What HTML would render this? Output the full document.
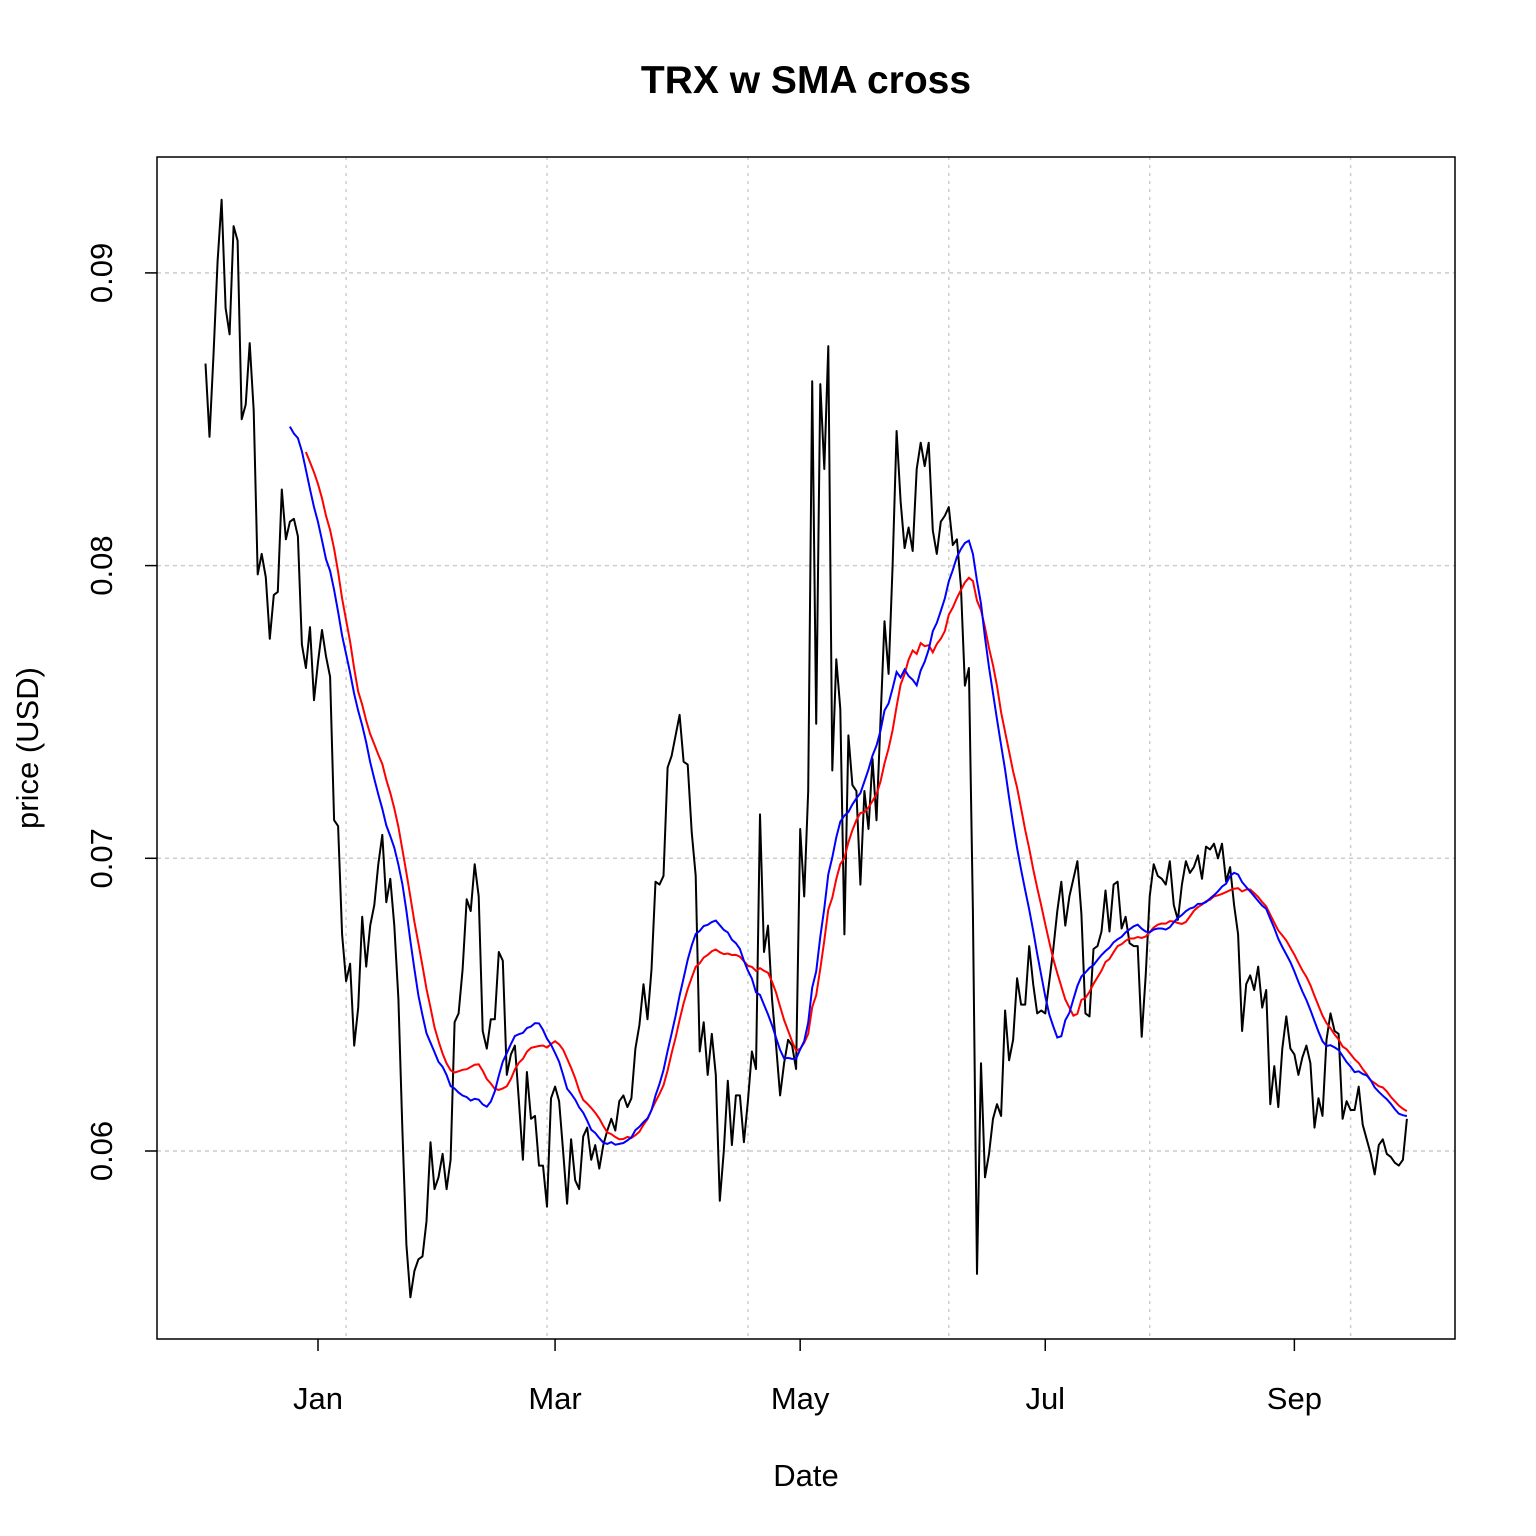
<!DOCTYPE html>
<html><head><meta charset="utf-8"><style>
html,body{margin:0;padding:0;background:#fff}
svg{display:block;font-family:"Liberation Sans",Arial,sans-serif}
</style></head><body>
<svg id="chart" width="1536" height="1536" viewBox="0 0 1536 1536" xmlns="http://www.w3.org/2000/svg">
<rect x="0" y="0" width="1536" height="1536" fill="#fff"/>
<text x="806" y="93" text-anchor="middle" font-size="39" font-weight="bold">TRX w SMA cross</text>
<text x="806" y="1486" text-anchor="middle" font-size="31">Date</text>
<text transform="translate(38,748) rotate(-90)" text-anchor="middle" font-size="31">price (USD)</text>
<g id="grid"></g>
<g id="series"></g>
<g id="axes"></g>
<rect x="157" y="157" width="1298" height="1182" fill="none" stroke="#000" stroke-width="1.5"/>
</svg>
<script>
// daily closing price (x1e-4 USD), starting Dec 4 (day -28 relative to Jan 1)
const startDay = -28;
const prices = [869,844,872,904,925,888,879,916,911,850,855,876,853,797,804,796,775,790,791,826,809,815,816,810,773,765,779,754,767,778,769,762,713,711,674,658,664,636,649,680,663,677,684,698,708,685,693,677,652,607,568,550,559,563,564,576,603,587,591,599,587,597,644,647,662,686,682,698,687,641,635,645,645,668,665,626,633,636,617,597,627,611,612,595,595,581,618,622,617,600,582,604,590,587,605,608,597,602,594,602,607,611,607,617,619,615,618,635,643,657,645,662,692,691,694,731,735,742,749,733,732,709,694,634,644,626,640,626,583,600,624,602,619,619,603,617,634,628,715,668,677,652,636,619,630,638,636,628,710,687,723,863,746,862,833,875,730,768,751,674,742,725,723,691,723,710,734,713,747,781,763,800,846,822,806,813,805,833,842,834,842,812,804,815,817,820,807,809,793,759,765,682,558,630,591,599,611,616,612,648,631,638,659,650,650,670,657,647,648,647,658,669,682,692,677,687,693,699,681,647,646,669,670,675,689,675,691,692,676,680,671,670,670,639,660,687,698,694,693,691,699,684,679,691,699,695,697,701,693,704,703,705,700,705,692,697,684,674,641,657,660,655,663,649,655,616,629,615,635,646,635,633,626,632,636,630,608,618,612,638,647,641,640,611,617,614,614,622,609,604,599,592,602,604,599,598,596,595,597,611];
const fastWindow = 22;
const slowWindow = 26;
const yTicks = [0.06, 0.07, 0.08, 0.09];
const yTickLabels = ["0.06", "0.07", "0.08", "0.09"];
const xTickDays = [0, 59, 120, 181, 243];
const xTickLabels = ["Jan", "Mar", "May", "Jul", "Sep"];
const gridIndices = [35, 85, 135, 185, 235, 285];

const NS = "http://www.w3.org/2000/svg";
function xScale(day){ return 318 + day * 4.018; }
function yScale(v){ return 1151 - (v - 0.06) * 29270; }
function mk(tag, attrs, parent){
  const e = document.createElementNS(NS, tag);
  for (const k in attrs) e.setAttribute(k, attrs[k]);
  parent.appendChild(e);
  return e;
}
const grid = document.getElementById('grid');
const axes = document.getElementById('axes');
const series = document.getElementById('series');

yTicks.forEach((t, i) => {
  const y = yScale(t);
  const g = mk('line', {x1:157, x2:1455, y1:y, y2:y, stroke:'#ccc', 'stroke-width':1.5, 'stroke-dasharray':'4,4'}, grid);
  
  
  const tk = mk('line', {x1:145, x2:157, y1:y, y2:y, stroke:'#000', 'stroke-width':1.5}, axes);
  
  
  const lb = mk('text', {transform:'translate(112,' + y + ') rotate(-90)', 'text-anchor':'middle', 'font-size':31}, axes);
  lb.textContent = yTickLabels[i];
  
  
});
gridIndices.forEach(idx => {
  const x = xScale(startDay + idx);
  const g = mk('line', {x1:x, x2:x, y1:157, y2:1339, stroke:'#ccc', 'stroke-width':1.5, 'stroke-dasharray':'3,5'}, grid);
  
  
});
xTickDays.forEach((d, i) => {
  const x = xScale(d);
  const tk = mk('line', {x1:x, x2:x, y1:1339, y2:1351, stroke:'#000', 'stroke-width':1.5}, axes);
  
  
  const lb = mk('text', {x:x, y:1409, 'text-anchor':'middle', 'font-size':31}, axes);
  lb.textContent = xTickLabels[i];
  
  
});

function pathFrom(vals, offset){
  let d = '';
  vals.forEach((v, i) => {
    d += (i ? 'L' : 'M') + xScale(startDay + offset + i).toFixed(1) + ',' + yScale(v / 10000).toFixed(1);
  });
  return d;
}
function sma(vals, w){
  const out = [];
  for (let i = w - 1; i < vals.length; i++){
    let s = 0;
    for (let j = i - w + 1; j <= i; j++) s += vals[j];
    out.push(s / w);
  }
  return out;
}
const pl = mk('path', {d:pathFrom(prices, 0), fill:'none', stroke:'#000', 'stroke-width':2, 'stroke-linejoin':'round'}, series);


const slow = mk('path', {d:pathFrom(sma(prices, slowWindow), slowWindow - 1), fill:'none', stroke:'#ff0000', 'stroke-width':2}, series);


const fast = mk('path', {d:pathFrom(sma(prices, fastWindow), fastWindow - 1), fill:'none', stroke:'#0000ff', 'stroke-width':2}, series);


</script>
</body></html>
